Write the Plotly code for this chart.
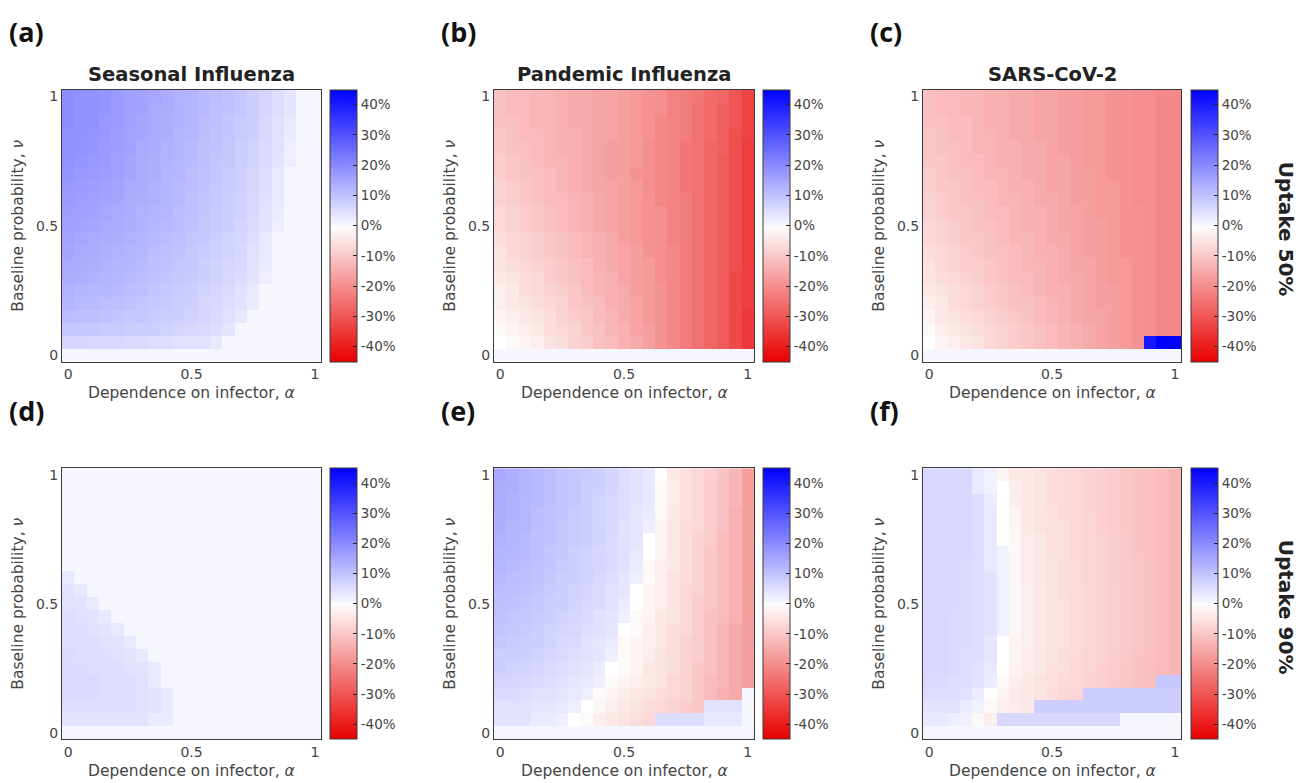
import plotly.graph_objects as go

# ---------------- data ----------------
alpha = [0.00, 0.05, 0.10, 0.15, 0.20, 0.25, 0.30, 0.35, 0.40, 0.45, 0.50,
         0.55, 0.60, 0.65, 0.70, 0.75, 0.80, 0.85, 0.90, 0.95, 1.00]
nu = [0.00, 0.05, 0.10, 0.15, 0.20, 0.25, 0.30, 0.35, 0.40, 0.45, 0.50,
      0.55, 0.60, 0.65, 0.70, 0.75, 0.80, 0.85, 0.90, 0.95, 1.00]

x_ticks = [0, 0.5, 1]
x_ticktext = ["0", "0.5", "1"]
y_ticks = [0, 0.5, 1]
y_ticktext = ["0", "0.5", "1"]
cbar_ticks = [-40, -30, -20, -10, 0, 10, 20, 30, 40]
cbar_ticktext = ["-40%", "-30%", "-20%", "-10%", "0%", "10%", "20%", "30%", "40%"]

disease_titles = ["Seasonal Influenza", "Pandemic Influenza", "SARS-CoV-2"]
panel_letters = ["(a)", "(b)", "(c)", "(d)", "(e)", "(f)"]
uptake_labels = ["Uptake 50%", "Uptake 90%"]
x_title = "Dependence on infector, <i>α</i>"
y_title = "Baseline probability, <i>ν</i>"

P = 0.5  # near-zero (faintly positive) cells

# rows listed from nu = 1 (top) down to nu = 0 (bottom); values in %
seasonal_50 = [
    [19.5, 19, 18.5, 18, 17, 16, 15.5, 15, 14, 13, 12.5, 11.5, 11, 10, 9, 8, 6.5, 5, 3.5, P, P],
    [19.5, 19, 18.5, 18, 17, 16, 15.5, 14.5, 14, 13, 12, 11.5, 10.5, 10, 9, 7.5, 6.5, 5, 3.5, P, P],
    [19.5, 19, 18.5, 17.5, 17, 16, 15, 14.5, 13.5, 13, 12, 11, 10.5, 9.5, 8.5, 7.5, 6, 4.5, 3, P, P],
    [19, 18.5, 18, 17.5, 16.5, 15.5, 15, 14, 13.5, 12.5, 12, 11, 10, 9.5, 8.5, 7.5, 6, 4.5, 2.5, P, P],
    [19, 18.5, 18, 17, 16.5, 15.5, 14.5, 14, 13, 12.5, 11.5, 10.5, 10, 9, 8, 7, 5.5, 4.5, 2, P, P],
    [18.5, 18, 17.5, 17, 16, 15, 14.5, 13.5, 13, 12, 11.5, 10.5, 9.5, 9, 8, 7, 5.5, 4, 2, P, P],
    [18, 17.5, 17, 16.5, 16, 15, 14, 13.5, 12.5, 12, 11, 10, 9.5, 8.5, 7.5, 6.5, 5, 3, P, P, P],
    [17.5, 17, 16.5, 16, 15.5, 14.5, 14, 13, 12.5, 11.5, 11, 10, 9, 8.5, 7.5, 6.5, 5, 3, P, P, P],
    [17, 16.5, 16, 15.5, 15, 14, 13.5, 13, 12, 11.5, 10.5, 9.5, 9, 8, 7, 6, 4.5, 3, P, P, P],
    [16.5, 16, 15.5, 15, 14.5, 14, 13, 12.5, 12, 11, 10.5, 9.5, 8.5, 8, 7, 6, 4, 2.5, P, P, P],
    [16, 15.5, 15, 14.5, 14, 13.5, 13, 12, 11.5, 11, 10, 9, 8.5, 7.5, 6.5, 5.5, 4, 2, P, P, P],
    [15.5, 15, 14.5, 14, 13.5, 13, 12.5, 11.5, 11, 10.5, 9.5, 9, 8, 7, 6.5, 5, 3, P, P, P, P],
    [15, 14.5, 14, 13.5, 13, 12.5, 12, 11, 10.5, 10, 9, 8.5, 7.5, 7, 6, 4.5, 3, P, P, P, P],
    [14.5, 14, 13.5, 13, 12.5, 12, 11.5, 10.5, 10, 9.5, 9, 8, 7, 6.5, 5.5, 4, 2.5, P, P, P, P],
    [14, 13.5, 13, 12.5, 12, 11.5, 11, 10, 9.5, 9, 8.5, 7.5, 7, 6, 5, 4, 2, P, P, P, P],
    [13, 12.5, 12, 12, 11.5, 11, 10.5, 9.5, 9, 8.5, 8, 7, 6.5, 5.5, 4.5, 3, P, P, P, P, P],
    [12, 11.5, 11.5, 11, 10.5, 10, 9.5, 9, 8.5, 8, 7.5, 6.5, 6, 5, 4, 2.5, P, P, P, P, P],
    [11, 10.5, 10.5, 10, 9.5, 9, 9, 8.5, 8, 7.5, 7, 6.5, 5.5, 4.5, 3, P, P, P, P, P, P],
    [9, 9, 9, 8.5, 8.5, 8, 7.5, 7.5, 7, 6.5, 6, 5.5, 5, 3.5, P, P, P, P, P, P, P],
    [6.5, 6.5, 6, 6, 6, 5.5, 5.5, 5, 5, 4.5, 4.5, 4.5, 3, P, P, P, P, P, P, P, P],
    [P, P, P, P, P, P, P, P, P, P, P, P, P, P, P, P, P, P, P, P, P],
]

pandemic_50 = [
    [-11, -12, -12, -13, -13, -14, -15, -15, -16, -16, -17, -18, -19, -20, -22, -23, -24, -26, -27, -30, -33],
    [-11, -12, -12, -13, -13, -14, -15, -15, -16, -16, -17, -18, -19, -20, -22, -23, -25, -26, -28, -30, -33],
    [-11, -11, -12, -13, -13, -14, -15, -15, -16, -16, -17, -18, -19, -21, -22, -23, -25, -26, -28, -30, -33],
    [-10, -11, -12, -12, -13, -14, -14, -15, -16, -16, -17, -18, -19, -21, -22, -23, -25, -26, -28, -31, -33],
    [-10, -11, -11, -12, -13, -14, -14, -15, -16, -17, -17, -18, -20, -21, -22, -24, -25, -27, -28, -31, -34],
    [-9, -10, -11, -12, -13, -13, -14, -15, -16, -17, -17, -18, -20, -21, -22, -24, -25, -27, -29, -31, -34],
    [-9, -10, -11, -11, -12, -13, -14, -15, -16, -17, -17, -19, -20, -21, -22, -24, -25, -27, -29, -31, -34],
    [-8, -9, -10, -11, -12, -13, -14, -15, -16, -16, -17, -18, -20, -21, -22, -24, -25, -27, -29, -31, -34],
    [-8, -9, -10, -11, -12, -12, -13, -14, -15, -16, -17, -18, -19, -21, -22, -23, -25, -27, -29, -31, -34],
    [-7, -8, -9, -10, -11, -12, -13, -14, -15, -16, -17, -18, -19, -20, -22, -23, -25, -27, -29, -31, -34],
    [-7, -8, -9, -10, -11, -12, -13, -14, -15, -16, -17, -18, -19, -20, -22, -23, -25, -27, -29, -31, -34],
    [-6, -7, -8, -9, -10, -11, -12, -13, -14, -15, -17, -18, -19, -20, -22, -23, -25, -27, -29, -31, -34],
    [-5, -7, -8, -9, -10, -11, -12, -13, -14, -15, -16, -17, -19, -20, -21, -23, -25, -27, -29, -31, -34],
    [-5, -6, -7, -8, -9, -10, -11, -12, -14, -15, -16, -17, -18, -20, -21, -23, -25, -27, -29, -31, -34],
    [-4, -5, -6, -7, -9, -10, -11, -12, -13, -14, -16, -17, -18, -20, -21, -23, -25, -27, -29, -32, -34],
    [-3, -4, -6, -7, -8, -9, -10, -12, -13, -14, -15, -17, -18, -19, -21, -23, -25, -27, -29, -32, -34],
    [-3, -4, -5, -6, -7, -8, -10, -11, -12, -14, -15, -16, -18, -19, -21, -23, -25, -27, -29, -32, -34],
    [-2, -3, -4, -5, -6, -8, -9, -10, -12, -13, -15, -16, -18, -19, -21, -23, -25, -27, -29, -32, -35],
    [-1, -2, -3, -4, -6, -7, -8, -10, -11, -13, -14, -16, -17, -19, -21, -23, -25, -27, -29, -32, -35],
    [0, -1, -2, -3, -5, -6, -8, -9, -11, -12, -14, -15, -17, -19, -21, -23, -25, -27, -29, -32, -35],
    [P, P, P, P, P, P, P, P, P, P, P, P, P, P, P, P, P, P, P, P, P],
]

sarscov2_50 = [
    [-11, -12, -12, -13, -13, -14, -14, -15, -15, -16, -16, -17, -17, -18, -18, -19, -19, -20, -20, -21, -21],
    [-11, -12, -12, -13, -13, -14, -14, -15, -15, -16, -16, -17, -17, -18, -18, -19, -19, -20, -20, -21, -21],
    [-11, -11, -12, -12, -13, -14, -14, -15, -15, -16, -16, -17, -17, -18, -18, -19, -19, -20, -20, -21, -21],
    [-10, -11, -12, -12, -13, -13, -14, -15, -15, -16, -16, -17, -17, -18, -18, -19, -19, -20, -20, -21, -21],
    [-10, -11, -11, -12, -13, -13, -14, -14, -15, -15, -16, -17, -17, -18, -18, -19, -19, -20, -20, -21, -21],
    [-10, -10, -11, -12, -12, -13, -14, -14, -15, -15, -16, -16, -17, -18, -18, -19, -19, -20, -20, -21, -21],
    [-9, -10, -11, -11, -12, -13, -13, -14, -15, -15, -16, -16, -17, -17, -18, -19, -19, -20, -20, -21, -21],
    [-9, -10, -10, -11, -12, -12, -13, -14, -14, -15, -16, -16, -17, -17, -18, -18, -19, -20, -20, -21, -21],
    [-8, -9, -10, -11, -11, -12, -13, -13, -14, -15, -15, -16, -17, -17, -18, -18, -19, -20, -20, -21, -21],
    [-8, -9, -10, -10, -11, -12, -12, -13, -14, -14, -15, -16, -16, -17, -18, -18, -19, -19, -20, -21, -21],
    [-7, -8, -9, -10, -11, -11, -12, -13, -14, -14, -15, -16, -16, -17, -17, -18, -19, -19, -20, -21, -21],
    [-7, -8, -9, -10, -10, -11, -12, -13, -13, -14, -15, -15, -16, -17, -17, -18, -19, -19, -20, -21, -21],
    [-6, -7, -8, -9, -10, -11, -11, -12, -13, -14, -14, -15, -16, -17, -17, -18, -19, -19, -20, -21, -21],
    [-5, -7, -8, -9, -9, -10, -11, -12, -13, -13, -14, -15, -16, -16, -17, -18, -18, -19, -20, -21, -21],
    [-5, -6, -7, -8, -9, -10, -11, -12, -12, -13, -14, -15, -15, -16, -17, -18, -18, -19, -20, -21, -21],
    [-4, -5, -6, -7, -8, -9, -10, -11, -12, -13, -14, -14, -15, -16, -17, -17, -18, -19, -20, -21, -21],
    [-3, -4, -6, -7, -8, -9, -10, -11, -11, -12, -13, -14, -15, -16, -17, -17, -18, -19, -20, -21, -21],
    [-2, -4, -5, -6, -7, -8, -9, -10, -11, -12, -13, -14, -15, -16, -16, -17, -18, -19, -20, -21, -21],
    [-1, -3, -4, -5, -6, -7, -8, -9, -10, -11, -12, -13, -14, -15, -16, -17, -18, -19, -20, -21, -21],
    [0, -2, -3, -4, -5, -7, -8, -9, -10, -11, -12, -13, -14, -15, -16, -17, -18, -19, 41, 45, 45],
    [P, P, P, P, P, P, P, P, P, P, P, P, P, P, P, P, P, P, P, P, P],
]

seasonal_90 = [
    [P, P, P, P, P, P, P, P, P, P, P, P, P, P, P, P, P, P, P, P, P],
    [P, P, P, P, P, P, P, P, P, P, P, P, P, P, P, P, P, P, P, P, P],
    [P, P, P, P, P, P, P, P, P, P, P, P, P, P, P, P, P, P, P, P, P],
    [P, P, P, P, P, P, P, P, P, P, P, P, P, P, P, P, P, P, P, P, P],
    [P, P, P, P, P, P, P, P, P, P, P, P, P, P, P, P, P, P, P, P, P],
    [P, P, P, P, P, P, P, P, P, P, P, P, P, P, P, P, P, P, P, P, P],
    [P, P, P, P, P, P, P, P, P, P, P, P, P, P, P, P, P, P, P, P, P],
    [P, P, P, P, P, P, P, P, P, P, P, P, P, P, P, P, P, P, P, P, P],
    [3, P, P, P, P, P, P, P, P, P, P, P, P, P, P, P, P, P, P, P, P],
    [4, 3, P, P, P, P, P, P, P, P, P, P, P, P, P, P, P, P, P, P, P],
    [4.5, 4, 3, P, P, P, P, P, P, P, P, P, P, P, P, P, P, P, P, P, P],
    [5, 4.5, 4, 3, P, P, P, P, P, P, P, P, P, P, P, P, P, P, P, P, P],
    [5, 5, 4.5, 4, 3, P, P, P, P, P, P, P, P, P, P, P, P, P, P, P, P],
    [5, 5, 5, 4.5, 4, 3, P, P, P, P, P, P, P, P, P, P, P, P, P, P, P],
    [5.5, 5, 5, 5, 4.5, 4, 3, P, P, P, P, P, P, P, P, P, P, P, P, P, P],
    [5.5, 5.5, 5, 5, 5, 4.5, 4, 3, P, P, P, P, P, P, P, P, P, P, P, P, P],
    [5.5, 5.5, 5.5, 5, 5, 5, 4.5, 3, P, P, P, P, P, P, P, P, P, P, P, P, P],
    [5.5, 5.5, 5.5, 5, 5, 5, 4.5, 4, 3, P, P, P, P, P, P, P, P, P, P, P, P],
    [5, 5, 5, 5, 5, 5, 4.5, 4, 3, P, P, P, P, P, P, P, P, P, P, P, P],
    [4, 4, 4, 4, 4, 4, 4, 2.5, 2.5, P, P, P, P, P, P, P, P, P, P, P, P],
    [P, P, P, P, P, P, P, P, P, P, P, P, P, P, P, P, P, P, P, P, P],
]

pandemic_90 = [
    [14.5, 13.5, 12.5, 11.5, 10.5, 9.5, 9, 8.5, 7.5, 6.5, 5, 4, 3, 0, -4, -5.5, -7, -8.5, -10.5, -13, -17],
    [14, 13.5, 12.5, 11.5, 10.5, 9.5, 9, 8, 7.5, 6.5, 5, 4, 3, -1, -3.5, -5.5, -7, -9, -11, -13, -17],
    [14, 13, 12, 11.5, 10.5, 9.5, 9, 8, 7, 6, 5, 4, 3, -1, -3.5, -5.5, -7, -9, -11, -13, -17],
    [13.5, 13, 12, 11, 10, 9.5, 8.5, 8, 7, 6, 5, 3.5, 2.5, -1.5, -4, -5.5, -7, -9, -11, -14, -17],
    [13.5, 12.5, 12, 11, 10, 9, 8.5, 7.5, 7, 6, 4.5, 3.5, 2, -2, -4, -6, -7, -9, -11, -14, -17],
    [13, 12.5, 11.5, 10.5, 10, 9, 8.5, 7.5, 7, 5.5, 4.5, 3.5, 0, -2, -4, -6, -8, -9, -12, -14, -17],
    [12.5, 12, 11.5, 10.5, 9.5, 9, 8, 7, 6.5, 5.5, 4.5, 3, 0, -2, -4, -6, -8, -10, -12, -14, -17],
    [12, 11.5, 11, 10, 9.5, 8.5, 8, 7, 6.5, 5.5, 4.5, 2.5, -1, -3, -4, -6, -8, -10, -12, -14, -17],
    [11.5, 11, 10.5, 10, 9, 8, 7.5, 7, 6, 5, 3.5, 2, -1, -3, -5, -6, -8, -10, -12, -14, -17],
    [11, 10.5, 10, 9.5, 8.5, 8, 7, 6.5, 5.5, 4.5, 3.5, 0, -2, -3, -5, -7, -8, -10, -12, -14, -17],
    [10.5, 10, 9.5, 9, 8, 7.5, 7, 6, 5.5, 4.5, 2.5, 0, -2, -3, -5, -7, -9, -10, -12, -14, -17],
    [10, 9.5, 9, 8.5, 8, 7, 6.5, 5.5, 4.5, 3.5, 2, -1, -2, -4, -5, -7, -9, -11, -12, -14, -17],
    [9.5, 9, 8.5, 8, 7, 6.5, 6, 5, 4.5, 3.5, 0, -1, -3, -4, -6, -7, -9, -11, -13, -15, -17],
    [9, 8.5, 8, 7.5, 7, 6, 5.5, 4.5, 3.5, 2.5, -1, -2, -3, -4, -6, -8, -9, -11, -13, -15, -17],
    [8, 8, 7.5, 7, 6.5, 5.5, 5, 4.5, 3.5, 2, -1, -2, -3, -5, -6, -8, -9, -11, -13, -15, -17],
    [7.5, 7, 7, 6.5, 5.5, 5, 4.5, 3.5, 2.5, 0, -1, -2, -4, -5, -6, -8, -10, -11, -13, -15, -17],
    [6.5, 6.5, 6, 5.5, 5, 4.5, 3.5, 3, 2, -1, -2, -3, -4, -5, -7, -8, -10, -12, -13, -15, -17],
    [5.5, 5.5, 5, 4.5, 4.5, 3.5, 3, 2, -1, -2, -3, -4, -5, -6, -7, -8, -10, -12, -14, -15, P],
    [4.5, 4.5, 4.5, 3.5, 3.5, 3, 2, 0, -1.5, -3, -4, -5, -6, -7, -8, -9, -10, 4, 4, 4, P],
    [4, 4, 4, 2.5, 2.5, 1.5, 0, -1, -3, -4, -5, -6, -7, 5, 5, 5, 5, 3, 3, 3, P],
    [P, P, P, P, P, P, P, P, P, P, P, P, P, P, P, P, P, P, P, P, P],
]

sarscov2_90 = [
    [6, 6, 6, 6, 3, 1.5, -2, -4, -4.5, -5, -6, -6.5, -7, -8, -8.5, -9, -10, -10.5, -11, -12, -13],
    [6, 6, 6, 6, 3, 1.5, 0, -3, -4.5, -5, -6, -6.5, -7, -8, -8.5, -9, -10, -10.5, -11, -12, -13],
    [6, 6, 6, 6, 5, 2.5, 0, -3, -4, -5, -6, -6.5, -7, -8, -8.5, -9, -10, -10.5, -11, -12, -13],
    [6, 6, 6, 6, 5, 3, 0, -2, -4, -5, -5.5, -6.5, -7, -7.5, -8.5, -9, -10, -10.5, -11, -12, -13],
    [6, 6, 6, 6, 5, 3, 0, -2, -4, -5, -5.5, -6, -7, -7.5, -8.5, -9, -10, -10.5, -11, -12, -13],
    [6, 6, 6, 6, 5, 3, 0, -1.5, -3.5, -4.5, -5.5, -6, -7, -7.5, -8, -9, -9.5, -10.5, -11, -12, -13],
    [6, 6, 6, 6, 5, 3, 1.5, -1.5, -3.5, -4.5, -5.5, -6, -7, -7.5, -8, -9, -9.5, -10.5, -11, -12, -13],
    [6, 6, 6, 5.5, 5, 3, 1.5, -1.5, -3.5, -4.5, -5, -6, -6.5, -7.5, -8, -9, -9.5, -10, -11, -12, -13],
    [6, 6, 6, 5.5, 5, 4, 1.5, -1.5, -3.5, -4.5, -5, -6, -6.5, -7.5, -8, -9, -9.5, -10, -11, -12, -13],
    [6, 6, 6, 5.5, 5, 4, 1.5, -1.5, -3, -4, -5, -6, -6.5, -7, -8, -8.5, -9.5, -10, -11, -12, -13],
    [6, 6, 6, 5.5, 5, 4, 1.5, -1.5, -3, -4, -5, -5.5, -6.5, -7, -8, -8.5, -9.5, -10, -11, -12, -13],
    [6, 6, 5.5, 5.5, 5, 4, 1.5, -1.5, -3, -4, -5, -5.5, -6.5, -7, -8, -8.5, -9.5, -10, -11, -12, -13],
    [6, 6, 5.5, 5.5, 5, 4, 1.5, -1.5, -3, -4, -5, -5.5, -6.5, -7, -8, -8.5, -9.5, -10, -11, -12, -13],
    [6, 6, 5.5, 5.5, 5, 3.5, 0, -2, -3, -4, -5, -5.5, -6.5, -7, -8, -8.5, -9.5, -10, -11, -12, -13],
    [6, 6, 5.5, 5, 5, 3.5, 0, -2, -3.5, -4.5, -5, -6, -6.5, -7.5, -8, -9, -9.5, -10.5, -11, -12, -13],
    [6, 6, 5.5, 5, 4.5, 3, 0, -2.5, -3.5, -4.5, -5.5, -6, -7, -7.5, -8.5, -9, -10, -10.5, -11.5, -12, -13],
    [5.5, 5.5, 5, 5, 4, 2.5, -1.5, -3, -4, -5, -5.5, -6.5, -7, -8, -8.5, -9.5, -10, -11, -11.5, 9, 9],
    [5, 5, 5, 4.5, 2.5, 0, -2, -3.5, -4.5, -5, -6, -7, -7.5, 8, 8, 8, 8, 8, 8, 8, 8],
    [4, 4, 4, 2.5, 1.5, -1.5, -3, -3.5, -4, 8, 8, 8, 8, 8, 8, 8, 8, 8, 8, 8, 8],
    [3, 3, 2, 1.5, -1.5, -3, 6, 6, 6, 6, 6, 6, 6, 6, 6, 6, P, P, P, P, P],
    [P, P, P, P, P, P, P, P, P, P, P, P, P, P, P, P, P, P, P, P, P],
]

panels = [seasonal_50, pandemic_50, sarscov2_50, seasonal_90, pandemic_90, sarscov2_90]

# ---------------- styling / layout ----------------
W, H = 1298, 783
FONT = "DejaVu Sans"
TICK_COLOR = "#444444"
FRAME = "#3a3a3a"


def fx(px):
    return px / W


def fy(py):
    return 1 - py / H


col_px = [(62, 321), (494, 754), (923, 1181)]
row_px = [(88, 361), (468, 740)]
cbar_left_px = [330, 763, 1191]
cbar_thick = 27

colorscale = [
    [0.0, "rgb(232,0,0)"],
    [0.5, "rgb(255,255,255)"],
    [0.5015, "rgb(248,248,255)"],
    [1.0, "rgb(0,0,255)"],
]

fig = go.Figure()
layout = dict(
    width=W, height=H,
    margin=dict(l=0, r=0, t=0, b=0),
    paper_bgcolor="white", plot_bgcolor="white",
    font=dict(family=FONT, color=TICK_COLOR, size=13),
    showlegend=False,
)

annotations = []
for k, rows in enumerate(panels):
    r, c = divmod(k, 3)
    x0, x1 = col_px[c]
    y0, y1 = row_px[r]
    suffix = "" if k == 0 else str(k + 1)
    z = rows[::-1]  # bottom row (nu = 0) first
    fig.add_trace(go.Heatmap(
        x=alpha, y=nu, z=z,
        zmin=-45, zmax=45,
        colorscale=colorscale,
        xaxis="x" + suffix, yaxis="y" + suffix,
        hovertemplate="α=%{x}<br>ν=%{y}<br>%{z}%<extra></extra>",
        colorbar=dict(
            x=fx(cbar_left_px[c]), xanchor="left", xpad=0,
            y=fy((y0 + y1) / 2), yanchor="middle", ypad=0,
            len=(y1 - y0) / H, lenmode="fraction",
            thickness=cbar_thick, thicknessmode="pixels",
            outlinewidth=1, outlinecolor=FRAME,
            tickmode="array", tickvals=cbar_ticks, ticktext=cbar_ticktext,
            ticks="inside", ticklen=4, tickwidth=1, tickcolor="#222222",
            tickfont=dict(family=FONT, size=13.5, color=TICK_COLOR),
        ),
    ))
    layout["xaxis" + suffix] = dict(
        domain=[fx(x0), fx(x1)], anchor="y" + suffix,
        range=[-0.025, 1.025], tickmode="array",
        tickvals=x_ticks, ticktext=x_ticktext,
        showline=True, mirror=True, linecolor=FRAME, linewidth=1,
        showgrid=False, zeroline=False, ticks="",
        tickfont=dict(family=FONT, size=14, color=TICK_COLOR),
        fixedrange=True,
    )
    layout["yaxis" + suffix] = dict(
        domain=[fy(y1), fy(y0)], anchor="x" + suffix,
        range=[-0.025, 1.025], tickmode="array",
        tickvals=y_ticks, ticktext=y_ticktext,
        showline=True, mirror=True, linecolor=FRAME, linewidth=1,
        showgrid=False, zeroline=False, ticks="",
        tickfont=dict(family=FONT, size=14, color=TICK_COLOR),
        fixedrange=True,
    )
    # axis titles
    annotations.append(dict(
        text=x_title, x=fx((x0 + x1) / 2), y=fy(y1 + 32),
        xref="paper", yref="paper", showarrow=False,
        xanchor="center", yanchor="middle",
        font=dict(family=FONT, size=15.5, color=TICK_COLOR),
    ))
    annotations.append(dict(
        text=y_title, x=fx(x0 - 44), y=fy((y0 + y1) / 2),
        xref="paper", yref="paper", showarrow=False, textangle=-90,
        xanchor="center", yanchor="middle",
        font=dict(family=FONT, size=15.5, color=TICK_COLOR),
    ))
    # panel letter
    annotations.append(dict(
        text="<b>" + panel_letters[k] + "</b>",
        x=fx(x0 - 55), y=fy(y0 - 58),
        xref="paper", yref="paper", showarrow=False,
        xanchor="left", yanchor="middle",
        font=dict(family="Open Sans", size=27, color="#111111"),
    ))

# disease titles (top row)
for c, title in enumerate(disease_titles):
    x0, x1 = col_px[c]
    annotations.append(dict(
        text="<b>" + title + "</b>", x=fx((x0 + x1) / 2), y=fy(73),
        xref="paper", yref="paper", showarrow=False,
        xanchor="center", yanchor="middle",
        font=dict(family=FONT, size=19.5, color="#222222"),
    ))

# uptake row labels
for r, lab in enumerate(uptake_labels):
    y0, y1 = row_px[r]
    annotations.append(dict(
        text="<b>" + lab + "</b>", x=fx(1286), y=fy((y0 + y1) / 2 + 3),
        xref="paper", yref="paper", showarrow=False, textangle=90,
        xanchor="center", yanchor="middle",
        font=dict(family=FONT, size=20, color="#222222"),
    ))

layout["annotations"] = annotations
fig.update_layout(**layout)

fig.write_html(
    "out.html",
    config={"displayModeBar": False},
    post_script="document.body.style.margin='0px';document.body.style.overflow='hidden';",
)
